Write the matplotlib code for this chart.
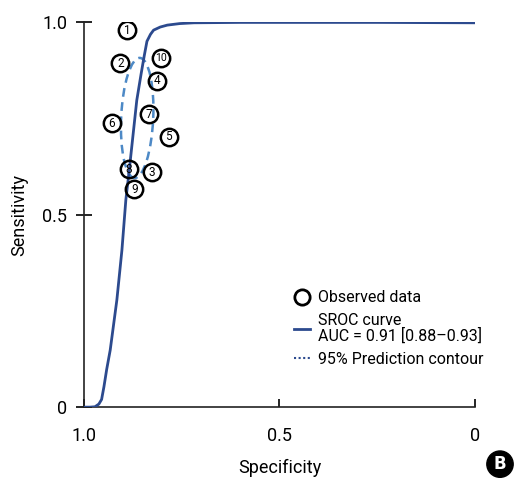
import matplotlib
matplotlib.use("Agg")
import matplotlib.pyplot as plt
from matplotlib.lines import Line2D
from matplotlib.patches import Ellipse

plt.rcParams['font.family'] = ['Roboto', 'DejaVu Sans']

# SROC curve (specificity, sensitivity)
sroc_spec = [1.0, 0.985, 0.972, 0.962, 0.955, 0.949, 0.942, 0.933, 0.916, 0.903,
             0.893, 0.884, 0.865, 0.854, 0.846, 0.839, 0.830, 0.822, 0.805,
             0.787, 0.755, 0.719, 0.60, 0.47, 0.25, 0.0]
sroc_sens = [0.0, 0.0, 0.001, 0.008, 0.020, 0.053, 0.098, 0.148, 0.278, 0.408,
             0.538, 0.618, 0.797, 0.865, 0.912, 0.950, 0.968, 0.979, 0.987,
             0.992, 0.996, 0.998, 0.999, 0.999, 0.999, 0.998]

# observed studies
study_id = ['1', '2', '3', '4', '5', '6', '7', '8', '9', '10']
study_spec = [0.890, 0.907, 0.826, 0.813, 0.783, 0.929, 0.833, 0.885, 0.871, 0.802]
study_sens = [0.979, 0.893, 0.610, 0.848, 0.702, 0.737, 0.761, 0.618, 0.566, 0.907]

# 95% prediction contour (center, half widths, tilt)
pred_center = (0.864, 0.751)
pred_half_spec = 0.041
pred_half_sens = 0.156
pred_tilt = 2.5

sroc_color = '#2c4a8e'
contour_color = '#4d89c6'

fig = plt.figure(figsize=(5.16, 4.79), dpi=100)
ax = fig.add_axes([0.1628, 0.150, 0.7577, 0.804])

ax.plot(sroc_spec, sroc_sens, color=sroc_color, lw=2.0, zorder=3)

ell = Ellipse(pred_center, 2 * pred_half_spec, 2 * pred_half_sens, angle=pred_tilt,
              fill=False, edgecolor=contour_color, lw=1.8, linestyle=(0, (3.5, 2.2)),
              zorder=2)
ax.add_patch(ell)

ax.plot(study_spec, study_sens, 'o', ms=12.5, mfc='none', mec='black', mew=1.8,
        zorder=4)
for lab, sx, sy in zip(study_id, study_spec, study_sens):
    ax.text(sx, sy, lab, ha='center', va='center', zorder=5,
            fontsize=7.5 if len(lab) > 1 else 8.5)

ax.set_xlim(1.0, 0.0)
ax.set_ylim(0.0, 1.0)
ax.spines['top'].set_visible(False)
ax.spines['right'].set_visible(False)
for s in ('left', 'bottom'):
    ax.spines[s].set_linewidth(1.2)
    ax.spines[s].set_color('#222222')

ax.set_xticks([1.0, 0.5, 0.0])
ax.set_xticklabels(['1.0', '0.5', '0'])
ax.set_yticks([0.0, 0.5, 1.0])
ax.set_yticklabels(['0', '0.5', '1.0'])
ax.tick_params(axis='x', direction='in', length=6, width=1.2, pad=14, labelsize=13)
ax.tick_params(axis='y', direction='inout', length=12, width=1.2, pad=6, labelsize=13)

ax.set_xlabel('Specificity', fontsize=13, labelpad=10)
ax.set_ylabel('Sensitivity', fontsize=13, labelpad=10)

handles = [Line2D([], [], marker='o', ls='none', ms=11, mfc='none', mec='black', mew=2),
           Line2D([], [], color=sroc_color, lw=2),
           Line2D([], [], color=sroc_color, lw=1.5, ls=(0, (1, 1.2)))]
labels = ['Observed data', 'SROC curve\nAUC = 0.91 [0.88\u20130.93]', '95% Prediction contour']
leg = ax.legend(handles, labels, loc='upper left', bbox_to_anchor=(0.52, 0.32),
                frameon=False, fontsize=11.5, handlelength=1.0, handletextpad=0.5,
                labelspacing=0.5, borderaxespad=0)
for t in leg.get_texts():
    t.set_linespacing(0.95)

fig.text(0.969, 0.031, 'B', ha='center', va='center', color='white', fontsize=12,
         fontweight='bold', family=['DejaVu Sans'],
         bbox=dict(boxstyle='circle,pad=0.25', fc='black', ec='black'))

fig.savefig('out.png', dpi=100)
